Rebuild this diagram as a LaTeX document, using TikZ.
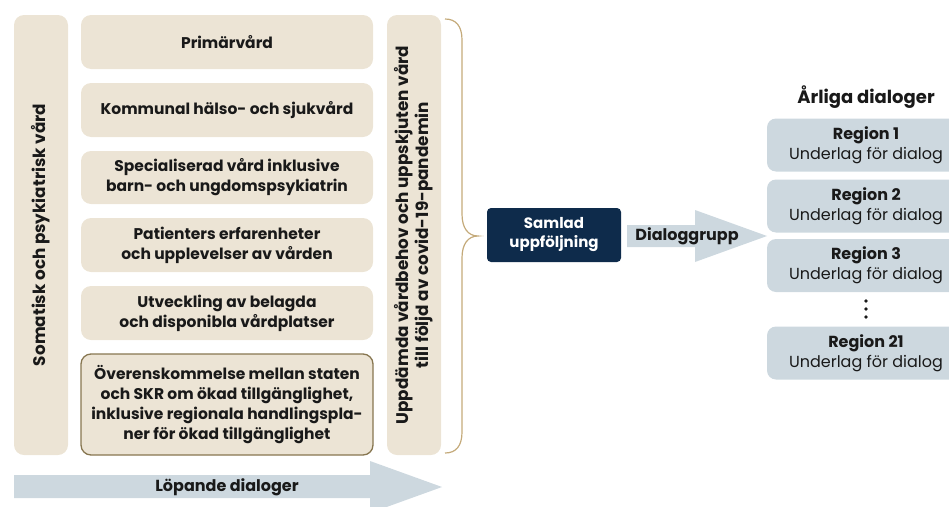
\documentclass[tikz,border=0pt]{standalone}
\usepackage{fontspec}
\setmainfont{Poppins}
\definecolor{beige}{RGB}{236,228,213}
\definecolor{beigeedge}{RGB}{135,118,80}
\definecolor{bracecol}{RGB}{196,170,122}
\definecolor{bluegray}{RGB}{205,216,223}
\definecolor{navy}{RGB}{14,43,75}
\definecolor{txt}{RGB}{25,25,25}
\begin{document}
\begin{tikzpicture}[x=1pt,y=-1pt,
  every node/.style={text=txt},
  beigebox/.style={fill=beige,rounded corners=10pt,inner sep=0pt,align=center,
    font=\fontsize{15.5}{20}\selectfont\bfseries},
  tallbox/.style={beigebox,rotate=90,minimum width=440pt,minimum height=54pt,
    font=\fontsize{16.8}{20}\selectfont\bfseries},
  midbox/.style={beigebox,minimum width=292pt},
  regionbox/.style={fill=bluegray,rounded corners=9pt,inner sep=0pt,align=center,
    minimum width=198pt,minimum height=53pt,font=\fontsize{16}{20}\selectfont},
  lbl/.style={font=\fontsize{16}{20}\selectfont\bfseries}]
\useasboundingbox (0,0) rectangle (949,506);
\clip (0,0) rectangle (949,506);

% left tall box
\node[tallbox] (somatisk) at (41,235) {Somatisk och psykiatrisk vård};

% middle boxes
\node[midbox,minimum height=54pt] (b1) at (227,42) {Primärvård};
\node[midbox,minimum height=54pt] (b2) at (227,110) {Kommunal hälso- och sjukvård};
\node[midbox,minimum height=53pt] (b3) at (227,177.5) {Specialiserad vård inklusive\\barn- och ungdomspsykiatrin};
\node[midbox,minimum height=54pt] (b4) at (227,245) {Patienters erfarenheter\\och upplevelser av vården};
\node[midbox,minimum height=54pt] (b5) at (227,313) {Utveckling av belagda\\och disponibla vårdplatser};
\node[midbox,minimum height=101pt,draw=beigeedge,line width=1.3pt] (b6) at (227,404.5)
  {Överenskommelse mellan staten\\och SKR om ökad tillgänglighet,\\inklusive regionala handlingspla-\\ner för ökad tillgänglighet};

% right tall box
\node[tallbox] (uppdamda) at (414,235)
  {Uppdämda vårdbehov och uppskjuten vård\\till följd av covid-19-pandemin};

% brace
\draw[bracecol,line width=1.2pt]
  (445,19) .. controls (456,19) and (462,26) .. (462,40) -- (462,214)
  .. controls (462,228) and (468,236) .. (478,236)
  .. controls (468,236) and (462,244) .. (462,258) -- (462,432)
  .. controls (462,446) and (456,453) .. (445,453);

% samlad uppfoljning
\node[fill=navy,rounded corners=4pt,minimum width=134pt,minimum height=54pt,align=center,
  text=white,font=\fontsize{15}{19}\selectfont\bfseries] (samlad) at (554,235)
  {Samlad\\uppföljning};

% dialoggrupp arrow
\fill[bluegray] (627,225) -- (695,225) -- (695,210) -- (767,236) -- (695,262) -- (695,247) -- (627,247) -- cycle;
\node[lbl] (dialoggrupp) at (687,236) {Dialoggrupp};

% lopande dialoger arrow
\fill[bluegray] (14,475) -- (370,475) -- (370,461) -- (442,487) -- (370,513) -- (370,498) -- (14,498) -- cycle;
\node[lbl] (lopande) at (227,487) {Löpande dialoger};

% regions
\node[font=\fontsize{18}{22}\selectfont\bfseries] (arliga) at (866,97) {Årliga dialoger};
\node[regionbox] (r1) at (866,145) {\textbf{Region 1}\\Underlag för dialog};
\node[regionbox] (r2) at (866,206) {\textbf{Region 2}\\Underlag för dialog};
\node[regionbox] (r3) at (866,265.5) {\textbf{Region 3}\\Underlag för dialog};
\node[regionbox] (r21) at (866,353) {\textbf{Region 21}\\Underlag för dialog};
\foreach \yy in {301,309,317} \fill[txt] (866,\yy) circle (1.8pt);
\end{tikzpicture}
\end{document}
